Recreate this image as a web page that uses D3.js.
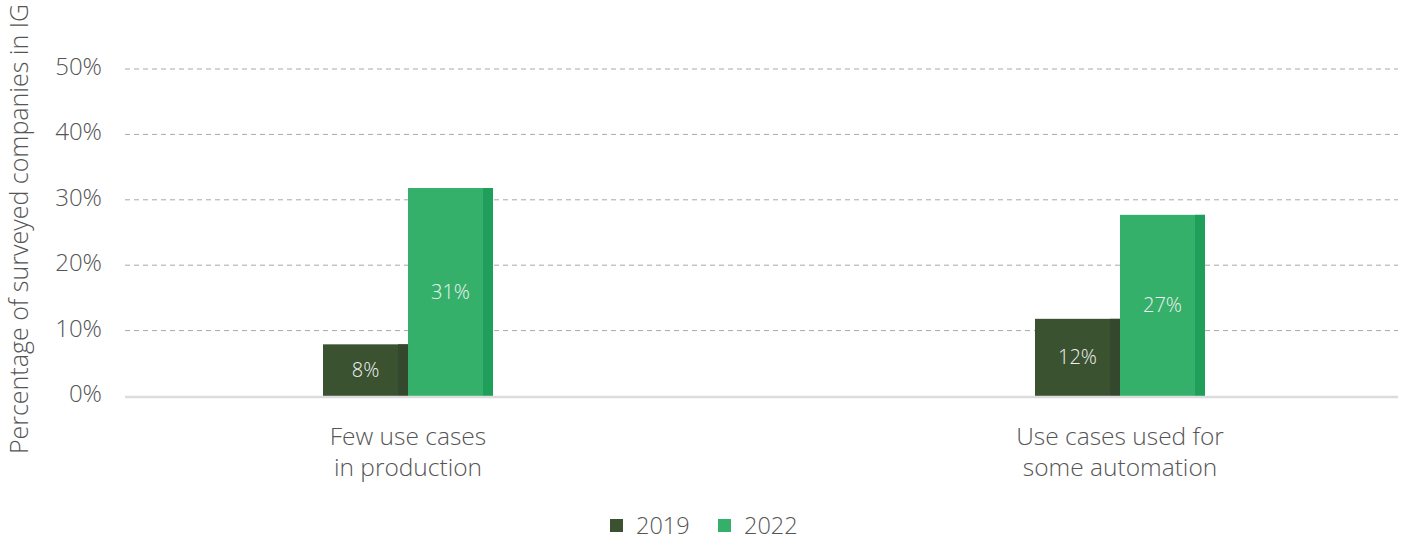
<!DOCTYPE html>
<html><head><meta charset="utf-8">
<script src="https://cdn.jsdelivr.net/npm/d3@7"></script>
<style>body{margin:0;background:#fff;} text{font-family:"Open Sans",sans-serif;}</style>
</head><body>
<svg id="c" width="1410" height="542"></svg>
<script>
const categories = [["Few use cases","in production"],["Use cases used for","some automation"]];
const series = ["2019","2022"];
const values2019 = [7.9, 11.8];
const values2022 = [31.8, 27.7];
const labels2019 = ["8%","12%"];
const labels2022 = ["31%","27%"];
const yTicks = [0,10,20,30,40,50];
const yTitle = "Percentage of surveyed companies in IG";

const colors = {"2019":"#3a5230","2022":"#35b06b"};
const strip = {"2019":"#33482c","2022":"#1f9f5a"};

const svg = d3.select("#c");
const y = d3.scaleLinear().domain([0,50]).range([396,69]);
const catKeys = categories.map(d=>d.join(" "));
const x = d3.scaleBand().domain(catKeys).range([52,1476]);
const bw = x.bandwidth();
const barW = 85;
const xs = d3.scaleBand().domain(series).range([bw/2-barW, bw/2+barW]);

const yAxis = d3.axisLeft(y).tickValues(yTicks).tickFormat(d=>d+"%").tickSize(0).tickPadding(0);
const gy = svg.append("g").attr("transform","translate(102,-3)").call(yAxis);
gy.select(".domain").remove();
gy.selectAll("text").attr("font-size",24).attr("fill","#555").attr("dy","0.35em").attr("font-weight",300).attr("font-family","'Open Sans',sans-serif");

svg.append("g").selectAll("line").data(yTicks.filter(d=>d>0)).join("line")
  .attr("x1",125).attr("x2",1398).attr("y1",d=>y(d)).attr("y2",d=>y(d))
  .attr("stroke","#a8a8a8").attr("stroke-width",1).attr("stroke-dasharray","5,4");

const data = [];
catKeys.forEach((c,i)=>{
  data.push({cat:c,s:"2019",v:values2019[i],lab:labels2019[i]});
  data.push({cat:c,s:"2022",v:values2022[i],lab:labels2022[i]});
});
const g = svg.append("g");
const bars = g.selectAll("g.bar").data(data).join("g").attr("class","bar")
  .attr("transform",d=>`translate(${x(d.cat)+xs(d.s)},0)`);
bars.append("rect").attr("x",0).attr("width",xs.bandwidth()).attr("y",d=>y(d.v)).attr("height",d=>y(0)-y(d.v)).attr("fill",d=>colors[d.s]);
bars.append("rect").attr("x",xs.bandwidth()-10).attr("width",10).attr("y",d=>y(d.v)).attr("height",d=>y(0)-y(d.v)).attr("fill",d=>strip[d.s]);
bars.append("text").attr("x",xs.bandwidth()/2).attr("y",d=>(y(d.v)+y(0))/2).attr("dy","0.35em")
  .attr("text-anchor","middle").attr("font-size",20).attr("font-weight",300).attr("fill","#f0f0f0").text(d=>d.lab);

svg.append("line").attr("x1",125).attr("x2",1398).attr("y1",y(0)+1).attr("y2",y(0)+1).attr("stroke","#dcdcdc").attr("stroke-width",2.5);

const lines = [];
categories.forEach((c,i)=>c.forEach((t,j)=>lines.push({cat:catKeys[i],t,j})));
svg.append("g").selectAll("text").data(lines).join("text")
  .attr("x",d=>x(d.cat)+bw/2).attr("y",d=>445+d.j*31).attr("text-anchor","middle")
  .attr("font-size",24.5).attr("fill","#555").attr("font-weight",300).text(d=>d.t);

svg.append("text").attr("transform","translate(28,229) rotate(-90)").attr("text-anchor","middle")
  .attr("font-size",25).attr("fill","#555").attr("font-weight",300).text(yTitle);

const lg = svg.append("g").selectAll("g").data(series).join("g")
  .attr("transform",(d,i)=>`translate(${610+i*108},519)`);
lg.append("rect").attr("width",13).attr("height",13).attr("fill",d=>colors[d]);
lg.append("text").attr("x",26).attr("y",7).attr("dy","0.35em").attr("font-size",23.5).attr("fill","#555").attr("font-weight",300).text(d=>d);
</script>
</body></html>
